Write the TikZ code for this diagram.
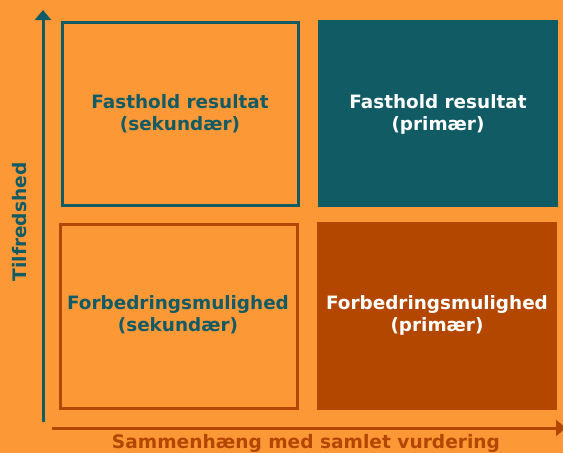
\documentclass[tikz,border=0pt]{standalone}
\usepackage{fontspec}
\setmainfont{DejaVu Sans}
\usetikzlibrary{arrows.meta}
\definecolor{bgor}{RGB}{253,152,55}
\definecolor{teal1}{RGB}{17,91,101}
\definecolor{rust}{RGB}{179,71,0}
\begin{document}
\begin{tikzpicture}[x=1pt,y=-1pt,
  lbl/.style={font=\bfseries\fontsize{18.4}{22}\selectfont,align=center},
  outbox/.style={line width=3pt},
  axis/.style={line width=3pt,-{Triangle[length=10pt,width=16pt]}}]
\fill[bgor] (0,0) rectangle (563,453);
\useasboundingbox (0,0) rectangle (563,453);
% boxes
\draw[outbox,draw=teal1] (62,22) rectangle (298,205);
\fill[teal1] (318,20) rectangle (558,207);
\draw[outbox,draw=rust] (60,224) rectangle (297,408);
\fill[rust] (317,222) rectangle (557,410);
\node[lbl,text=teal1] (tl) at (180,114) {Fasthold resultat\\(sekundær)};
\node[lbl,text=white] (tr) at (438,114) {Fasthold resultat\\(primær)};
\node[lbl,text=teal1] (bl) at (178,315) {Forbedringsmulighed\\(sekundær)};
\node[lbl,text=white] (br) at (437,315) {Forbedringsmulighed\\(primær)};
% axes
\coordinate (y0) at (43,422);
\coordinate (y1) at (43,10);
\coordinate (x0) at (52,428);
\coordinate (x1) at (566,428);
\draw[axis,draw=teal1,fill=teal1] (y0) -- (y1);
\draw[axis,draw=rust,fill=rust] (x0) -- (x1);
\node[font=\bfseries\fontsize{18.6}{20}\selectfont,text=rust] (xl) at (306,443) {Sammenhæng med samlet vurdering};
\node[font=\bfseries\fontsize{18.6}{20}\selectfont,text=teal1,rotate=90] (yl) at (20,222) {Tilfredshed};
\end{tikzpicture}
\end{document}
